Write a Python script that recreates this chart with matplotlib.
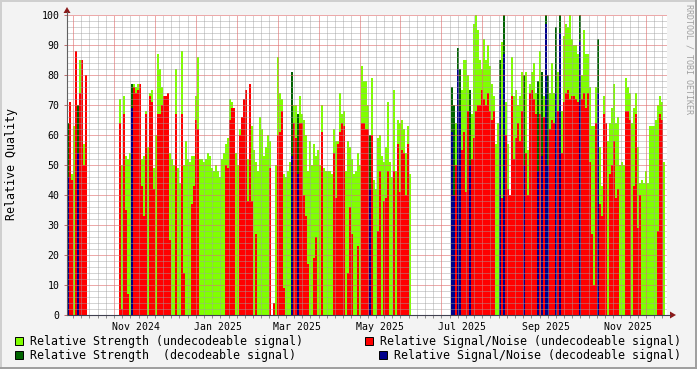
import numpy as np
import matplotlib
matplotlib.use("Agg")
import matplotlib.pyplot as plt
import matplotlib.dates as mdates
from matplotlib.lines import Line2D
from matplotlib.patches import Polygon, Rectangle
from datetime import datetime

# --- canvas (pixels) ---
W, H = 697, 369

# --- time axis: one sample every 2 px of the 600 px wide graph ---
start = datetime(2024, 9, 11, 5)
px_per_day = 1.3488
span_days = 600 / px_per_day
step = 2 / px_per_day

# relative strength per sample (0 = no data)
strength = [
    64, 47, 47, 63, 78, 70, 85, 78, 57, 0,
    0, 0, 0, 0, 0, 0, 0, 0, 0, 0,
    0, 0, 0, 0, 0, 0, 72, 50, 73, 53,
    52, 54, 77, 77, 76, 77, 70, 52, 53, 68,
    56, 74, 75, 49, 60, 87, 82, 76, 72, 72,
    73, 54, 52, 50, 82, 49, 44, 88, 50, 58,
    52, 51, 53, 53, 73, 86, 52, 52, 51, 52,
    54, 53, 49, 48, 50, 48, 46, 52, 54, 57,
    59, 72, 71, 54, 54, 50, 62, 62, 60, 60,
    52, 61, 63, 55, 51, 48, 66, 62, 53, 56,
    60, 58, 0, 0, 50, 86, 74, 72, 47, 46,
    48, 51, 81, 70, 70, 67, 73, 67, 65, 60,
    48, 58, 50, 57, 53, 55, 50, 70, 49, 48,
    48, 48, 47, 62, 58, 58, 74, 67, 68, 48,
    58, 56, 52, 47, 48, 54, 50, 83, 78, 78,
    70, 60, 79, 45, 42, 59, 60, 53, 51, 56,
    71, 51, 46, 75, 48, 65, 64, 65, 62, 54,
    63, 47, 0, 0, 0, 0, 0, 0, 0, 0,
    0, 0, 0, 0, 0, 0, 0, 0, 0, 0,
    0, 0, 76, 70, 64, 89, 82, 75, 85, 85,
    80, 75, 67, 97, 100, 95, 85, 82, 92, 85,
    90, 83, 77, 73, 57, 64, 85, 91, 100, 71,
    57, 40, 86, 73, 75, 70, 73, 81, 80, 81,
    55, 77, 81, 84, 74, 78, 88, 81, 73, 100,
    80, 74, 84, 74, 96, 81, 100, 68, 93, 97,
    96, 100, 92, 90, 90, 87, 100, 80, 95, 87,
    87, 76, 63, 63, 76, 92, 56, 43, 73, 62,
    58, 64, 69, 77, 64, 66, 50, 51, 50, 79,
    76, 74, 64, 69, 74, 56, 44, 45, 44, 48,
    44, 63, 63, 63, 65, 70, 73, 71, 51, 0,
]

# relative signal/noise per sample
snr = [
    46, 71, 45, 0, 88, 54, 74, 85, 50, 80,
    0, 0, 0, 0, 0, 0, 0, 0, 0, 0,
    0, 0, 0, 0, 0, 0, 64, 2, 67, 35,
    7, 0, 69, 76, 74, 75, 77, 43, 33, 67,
    0, 73, 71, 42, 0, 67, 67, 70, 73, 73,
    74, 25, 0, 0, 67, 0, 0, 67, 14, 0,
    0, 0, 37, 43, 65, 62, 0, 0, 0, 0,
    0, 0, 0, 0, 0, 0, 0, 0, 0, 50,
    49, 65, 69, 69, 0, 0, 60, 66, 72, 75,
    38, 77, 38, 0, 27, 0, 0, 0, 0, 0,
    0, 49, 0, 4, 0, 60, 61, 68, 9, 0,
    0, 0, 53, 64, 59, 47, 64, 64, 40, 33,
    17, 0, 0, 19, 26, 0, 0, 61, 0, 0,
    0, 0, 0, 54, 39, 57, 61, 64, 63, 0,
    14, 36, 27, 0, 0, 23, 0, 64, 64, 62,
    62, 42, 60, 0, 0, 28, 48, 0, 38, 39,
    48, 0, 0, 48, 0, 57, 41, 55, 54, 40,
    57, 0, 0, 0, 0, 0, 0, 0, 0, 0,
    0, 0, 0, 0, 0, 0, 0, 0, 0, 0,
    0, 0, 61, 40, 50, 82, 68, 55, 61, 41,
    68, 50, 52, 59, 68, 70, 70, 75, 72, 70,
    74, 68, 65, 68, 0, 0, 75, 39, 87, 60,
    42, 40, 73, 52, 59, 64, 58, 68, 50, 54,
    40, 74, 75, 72, 67, 48, 67, 53, 66, 97,
    50, 62, 65, 64, 74, 68, 94, 54, 71, 74,
    75, 72, 73, 73, 72, 71, 91, 72, 74, 69,
    74, 51, 27, 10, 64, 74, 37, 33, 67, 64,
    0, 47, 50, 58, 39, 42, 0, 0, 0, 68,
    68, 65, 0, 43, 67, 29, 40, 0, 0, 0,
    0, 0, 0, 0, 0, 28, 67, 65, 0, 0,
]

# samples where the signal could be decoded
decodeable = [0, 5, 32, 112, 115, 151, 192, 193, 195, 196, 201, 216, 218,
              228, 235, 237, 239, 240, 244, 246, 256, 265]

month_ticks = [datetime(2024, 11, 1), datetime(2025, 1, 1), datetime(2025, 3, 1),
               datetime(2025, 5, 1), datetime(2025, 7, 1), datetime(2025, 9, 1),
               datetime(2025, 11, 1)]
month_labels = ['Nov 2024', 'Jan 2025', 'Mar 2025', 'May 2025',
                'Jul 2025', 'Sep 2025', 'Nov 2025']

legend_left = ['Relative Strength (undecodeable signal)',
               'Relative Strength  (decodeable signal)']
legend_right = ['Relative Signal/Noise (undecodeable signal)',
                'Relative Signal/Noise (decodeable signal)']

C_STR = '#80ff00'
C_SNR = '#ff0000'
C_STR_DEC = '#006400'
C_SNR_DEC = '#00008b'

FONT = 'DejaVu Sans Mono'
plt.rcParams['font.family'] = FONT


def fx(x):
    return x / W


def fy(y):
    return 1 - y / H


fig = plt.figure(figsize=(W / 100, H / 100), dpi=100, facecolor='#f3f3f3')
ax = fig.add_axes([fx(67), fy(315), 600 / W, 300 / H])
ax.set_facecolor('white')

n = len(strength)
t0 = mdates.date2num(start)
x = t0 + np.arange(n) * step
dec = np.isin(np.arange(n), decodeable)
s = np.array(strength, dtype=float)
r = np.array(snr, dtype=float)

kw = dict(width=step, align='edge', linewidth=0, antialiased=False, zorder=2)
ax.bar(x, np.where(dec, 0, s), color=C_STR, **kw)
ax.bar(x, np.where(dec, 0, r), color=C_SNR, **kw)
ax.bar(x, np.where(dec, s, 0), color=C_STR_DEC, **kw)
ax.bar(x, np.where(dec, r, 0), color=C_SNR_DEC, **kw)

ax.set_xlim(t0, t0 + span_days)
ax.set_ylim(0, 100)

# --- grid (rrdtool style, dotted, drawn over the data) ---
dots = (0, (1, 1))
minor_style = dict(color='#a0a0a0', alpha=0.45, lw=0.72, ls=dots, zorder=3, antialiased=False)
major_style = dict(color='#e07070', alpha=0.6, lw=0.72, ls=dots, zorder=3, antialiased=False)
for v in range(2, 101, 2):
    ax.axhline(v, **(major_style if v % 10 == 0 else minor_style))

major_days = 40.92 / px_per_day
minor_days = major_days / 5
anchor = t0 + 47 / px_per_day
k = np.arange(-10, 80)
vlines = anchor + k * minor_days
keep = (vlines > t0 + 0.5) & (vlines < t0 + span_days)
for kk, v in zip(k[keep], vlines[keep]):
    ax.axvline(v, **(major_style if kk % 5 == 0 else minor_style))

# --- ticks ---
ax.set_xticks([mdates.date2num(d) for d in month_ticks])
ax.set_xticklabels(month_labels)
ax.set_xticks(vlines[keep], minor=True)
ax.tick_params(axis='x', which='major', length=0, pad=5, labelsize=7.1)
ax.tick_params(axis='x', which='minor', length=2, width=0.72, color='#909090')
ax.set_yticks(range(0, 101, 10))
ax.tick_params(axis='y', which='major', length=2, width=0.72, color='#c07070',
               pad=3.5, labelsize=7.1)

for side in ['top', 'right', 'left', 'bottom']:
    ax.spines[side].set_visible(False)

# axis lines with arrows
fig.add_artist(Line2D([fx(67), fx(670)], [fy(315), fy(315)], color='#404050', lw=0.8))
fig.add_artist(Line2D([fx(67), fx(67)], [fy(315), fy(12)], color='#606060', lw=0.8))
fig.add_artist(Polygon([(fx(670), fy(311.5)), (fx(676), fy(315)), (fx(670), fy(318.5))],
                       closed=True, color='#8b1a1a', lw=0))
fig.add_artist(Polygon([(fx(63.5), fy(13)), (fx(67), fy(7)), (fx(70.5), fy(13))],
                       closed=True, color='#8b1a1a', lw=0))

# --- labels ---
fig.text(fx(12), fy(164), 'Relative Quality', rotation=90, ha='center', va='center',
         fontsize=8.4)
fig.text(fx(689), fy(4), 'RRDTOOL / TOBI OETIKER', rotation=270, ha='center', va='top',
         fontsize=6, color='#a0a0a0')

# --- legend ---
legend_rows = [341, 355]
left_colors = [C_STR, C_STR_DEC]
right_colors = [C_SNR, C_SNR_DEC]
right_sq = [365, 379]
for row, lab, col in zip(legend_rows, legend_left, left_colors):
    fig.add_artist(Rectangle((fx(15), fy(row + 4)), 8 / W, 8 / H, facecolor=col,
                             edgecolor='black', lw=0.7))
    fig.text(fx(30), fy(row), lab, ha='left', va='center', fontsize=8.4)
for row, lab, col, sx in zip(legend_rows, legend_right, right_colors, right_sq):
    fig.add_artist(Rectangle((fx(sx), fy(row + 4)), 8 / W, 8 / H, facecolor=col,
                             edgecolor='black', lw=0.7))
    fig.text(fx(sx + 15), fy(row), lab, ha='left', va='center', fontsize=8.4)

# canvas border
fig.add_artist(Line2D([0, 1], [fy(0.5), fy(0.5)], color='#cfcfcf', lw=1.4))
fig.add_artist(Line2D([fx(0.5), fx(0.5)], [0, 1], color='#cfcfcf', lw=1.4))
fig.add_artist(Line2D([0, 1], [fy(368), fy(368)], color='#9e9e9e', lw=1.4))
fig.add_artist(Line2D([fx(696), fx(696)], [0, 1], color='#9e9e9e', lw=1.4))

fig.savefig('out.png', dpi=100, facecolor=fig.get_facecolor())
